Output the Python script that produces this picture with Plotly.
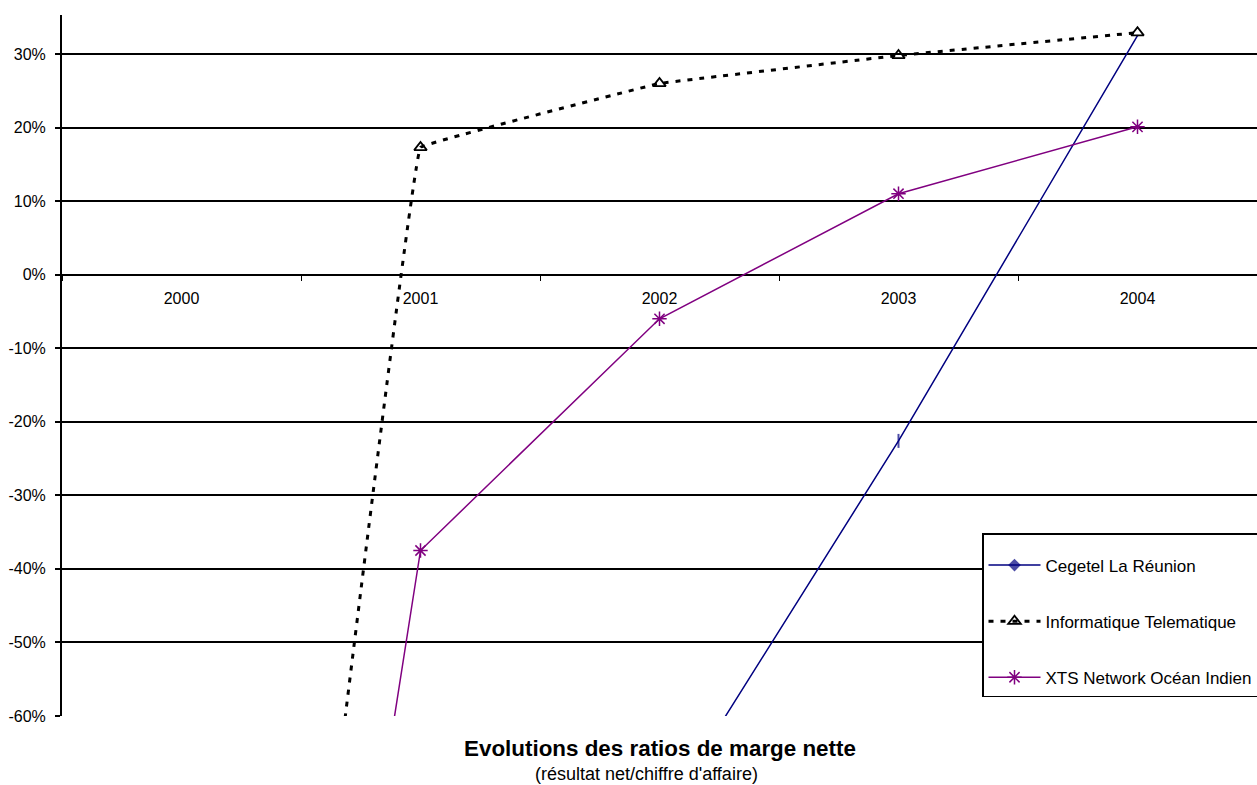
import plotly.graph_objects as go

years = ["2000", "2001", "2002", "2003", "2004"]
cegetel = [None, None, -74.3, -22.6, 32.5]
informatique = [-245.0, 17.3, 26.0, 29.8, 32.9]
xts = [-245.0, -37.5, -6.0, 11.0, 20.1]
y_ticks = [30, 20, 10, 0, -10, -20, -30, -40, -50, -60]
y_tick_text = [f"{v}%" for v in y_ticks]

W, H = 1257, 785
ml, mr, mt, mb = 62, 0, 15, 69
y_min, y_max = -60, 35.3
plot_w = W - ml - mr
plot_h = H - mt - mb

def px_to_paper_y(py):
    return (H - mb - py) / plot_h

def px_to_paper_x(px):
    return (px - ml) / plot_w

font = "Liberation Sans, Arial, sans-serif"

fig = go.Figure()

fig.add_trace(go.Scatter(
    x=years, y=cegetel, name="Cegetel La Réunion", mode="lines+markers",
    line=dict(color="#000080", width=1.5),
    marker=dict(symbol=["diamond", "diamond", "diamond", "line-ns-open", "line-ns-open"],
                size=[9, 9, 9, 10, 1], color="#000080", line=dict(color="#000080", width=2)),
    legendgroup="a", connectgaps=False,
))
fig.add_trace(go.Scatter(
    x=years, y=informatique, name="Informatique Telematique", mode="lines+markers",
    line=dict(color="black", width=3, dash="5px,7px", shape="spline", smoothing=0.06),
    marker=dict(symbol="triangle-up-open", size=11, color="black", line=dict(color="black", width=1.8)),
    legendgroup="b",
))
fig.add_trace(go.Scatter(
    x=years, y=xts, name="XTS Network Océan Indien", mode="lines+markers",
    line=dict(color="#800080", width=1.5),
    marker=dict(symbol="asterisk-open", size=12, color="#800080", line=dict(color="#800080", width=1.5)),
    legendgroup="c",
))

zero_pos = (0 - y_min) / (y_max - y_min)

fig.update_layout(
    width=W, height=H,
    margin=dict(l=ml, r=mr, t=mt, b=mb, autoexpand=False),
    paper_bgcolor="white", plot_bgcolor="white",
    font=dict(family=font, size=16, color="black"),
    showlegend=True,
    legend=dict(
        x=px_to_paper_x(982), y=px_to_paper_y(533),
        xanchor="left", yanchor="top",
        bgcolor="white", bordercolor="black", borderwidth=1.5,
        font=dict(family=font, size=17, color="black"),
        title=dict(text=" ", font=dict(size=10)),
        traceorder="grouped", tracegroupgap=31, itemwidth=52,
        entrywidth=300, entrywidthmode="pixels",
    ),
    xaxis=dict(
        type="category", range=[-0.5, 4.5],
        anchor="free", position=zero_pos,
        showline=False, showgrid=False, zeroline=False,
        ticks="outside", ticklen=5, tickwidth=1, tickcolor="black",
        tickson="boundaries", ticklabelstandoff=12,
        tickfont=dict(family=font, size=16, color="black"),
    ),
    yaxis=dict(
        range=[y_min, y_max],
        tickvals=y_ticks, ticktext=y_tick_text,
        showgrid=True, gridcolor="black", gridwidth=1.5,
        zeroline=False, showline=True, linecolor="black", linewidth=2,
        ticks="outside", ticklen=5, tickcolor="black", tickwidth=1.5,
        ticklabelstandoff=6,
        tickfont=dict(family=font, size=16, color="black"),
    ),
    annotations=[
        dict(text="<b>Evolutions des ratios de marge nette</b>", xref="paper", yref="paper",
             x=px_to_paper_x(660), y=px_to_paper_y(748), xanchor="center", yanchor="middle",
             showarrow=False, font=dict(family=font, size=22.4, color="black")),
        dict(text="(résultat net/chiffre d'affaire)", xref="paper", yref="paper",
             x=px_to_paper_x(646), y=px_to_paper_y(774), xanchor="center", yanchor="middle",
             showarrow=False, font=dict(family=font, size=18, color="black")),
    ],
)

fig.write_html(
    "out.html",
    config={"displayModeBar": False},
    post_script="document.body.style.margin='0px';document.body.style.overflow='hidden';",
)
